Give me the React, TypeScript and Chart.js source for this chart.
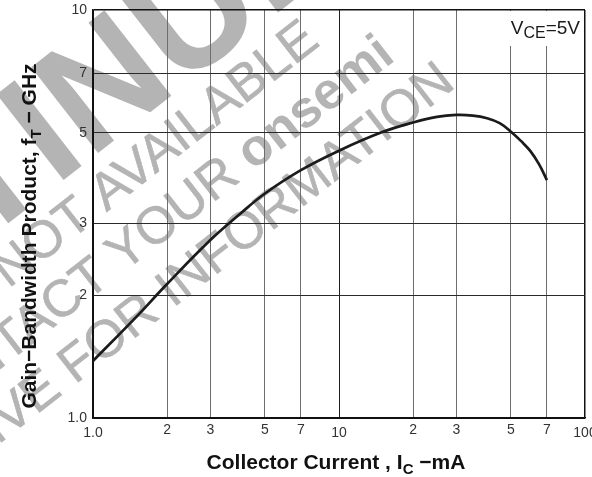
import React, { useEffect, useRef } from 'react';
import { Chart, registerables } from 'chart.js';

Chart.register(...registerables);

// ---- data ----
const collectorCurrent = [1, 1.5, 2, 3, 4, 5, 7, 10, 15, 20, 25, 30, 35, 40, 45, 50, 55, 60, 65, 70];
const gainBandwidth = [1.38, 1.77, 2.13, 2.73, 3.18, 3.55, 4.05, 4.52, 5.02, 5.3, 5.47, 5.53, 5.51, 5.43, 5.28, 5.03, 4.77, 4.51, 4.19, 3.83];
const xTickValues = [1, 2, 3, 5, 7, 10, 20, 30, 50, 70, 100];
const xTickLabels = ['1.0', '2', '3', '5', '7', '10', '2', '3', '5', '7', '100'];
const yTickValues = [1, 2, 3, 5, 7, 10];
const yTickLabels = ['1.0', '2', '3', '5', '7', '10'];

const FAMILY = '"Liberation Sans", Arial, Helvetica, sans-serif';

type Part = { text: string; sub?: boolean };

const yTitleParts: Part[] = [
  { text: 'Gain\u2212Bandwidth Product, f' },
  { text: 'T', sub: true },
  { text: ' \u2212 GHz' },
];
const xTitleParts: Part[] = [
  { text: 'Collector Current , I' },
  { text: 'C', sub: true },
  { text: ' \u2212mA' },
];
const conditionParts: Part[] = [
  { text: 'V' },
  { text: 'CE', sub: true },
  { text: '=5V' },
];

type Seg = { text: string; bold?: boolean };
type Mark = { segs: Seg[]; size: number; angle: number; anchor: number; x: number; y: number; stroke: number };

const watermark: Mark[] = [
  { segs: [{ text: 'DISCONTI', bold: true }, { text: 'N', bold: true }, { text: 'UED', bold: true }], size: 158, angle: 38, anchor: 1, x: 108, y: 90, stroke: 0 },
  { segs: [{ text: 'NOT ' }, { text: 'AVAILABLE' }], size: 52, angle: 38, anchor: 1, x: 205, y: 117, stroke: 0.6 },
  { segs: [{ text: 'CONTACT YOUR ' }, { text: 'onsemi', bold: true }], size: 52, angle: 38, anchor: 1, x: 316, y: 104, stroke: 0.6 },
  { segs: [{ text: 'ARCHIVE FOR ' }, { text: 'INFORMATION' }], size: 52, angle: 38, anchor: 1, x: 306, y: 186, stroke: 0.6 },
];

function drawRich(
  ctx: CanvasRenderingContext2D,
  parts: Part[],
  cx: number,
  baseline: number,
  size: number,
  bold: boolean,
  align: 'center' | 'right',
  subRatio = 0.72
) {
  const subSize = Math.round(size * subRatio);
  const fontFor = (p: Part) => `${bold ? 'bold ' : ''}${p.sub ? subSize : size}px ${FAMILY}`;
  const widths = parts.map((p) => {
    ctx.font = fontFor(p);
    return ctx.measureText(p.text).width;
  });
  const total = widths.reduce((a, b) => a + b, 0);
  let x = align === 'center' ? cx - total / 2 : cx - total;
  ctx.textAlign = 'left';
  ctx.textBaseline = 'alphabetic';
  parts.forEach((p, i) => {
    ctx.font = fontFor(p);
    ctx.fillText(p.text, x, baseline + (p.sub ? size * 0.22 : 0));
    x += widths[i];
  });
}

const watermarkPlugin = {
  id: 'watermark',
  beforeDraw(chart: Chart) {
    const ctx = chart.ctx;
    ctx.save();
    ctx.fillStyle = '#b4b4b4';
    ctx.strokeStyle = '#b4b4b4';
    ctx.lineJoin = 'round';
    watermark.forEach((m) => {
      const fonts = m.segs.map((s) => `${s.bold ? 'bold ' : ''}${m.size}px ${FAMILY}`);
      const widths = m.segs.map((s, i) => {
        ctx.font = fonts[i];
        return ctx.measureText(s.text).width;
      });
      let offset = 0;
      for (let i = 0; i < m.anchor; i++) offset += widths[i];
      offset += widths[m.anchor] / 2;
      ctx.save();
      ctx.translate(m.x, m.y);
      ctx.rotate((-m.angle * Math.PI) / 180);
      ctx.textAlign = 'left';
      ctx.textBaseline = 'middle';
      let x = -offset;
      m.segs.forEach((s, i) => {
        ctx.font = fonts[i];
        ctx.fillText(s.text, x, 0);
        if (m.stroke > 0 && !s.bold) {
          ctx.lineWidth = m.stroke;
          ctx.strokeText(s.text, x, 0);
        }
        x += widths[i];
      });
      ctx.restore();
    });
    ctx.restore();
  },
};

const labelsPlugin = {
  id: 'labels',
  afterDraw(chart: Chart) {
    const ctx = chart.ctx;
    const area = chart.chartArea;
    ctx.save();
    ctx.fillStyle = '#111';
    // x title
    drawRich(ctx, xTitleParts, (area.left + area.right) / 2 - 3, 469, 21, true, 'center');
    // y title
    ctx.save();
    ctx.translate(36, 236);
    ctx.rotate(-Math.PI / 2);
    drawRich(ctx, yTitleParts, 0, 0, 21, true, 'center');
    ctx.restore();
    // condition label
    ctx.fillStyle = '#ffffff';
    ctx.fillRect(area.right - 90, area.top + 1, 89, 35);
    ctx.fillStyle = '#1a1a1a';
    drawRich(ctx, conditionParts, area.right - 5, area.top + 24, 19, false, 'right', 0.86);
    ctx.restore();
  },
};

export default function App() {
  const canvasRef = useRef<HTMLCanvasElement | null>(null);

  useEffect(() => {
    const canvas = canvasRef.current;
    if (!canvas) return;
    const chart = new Chart(canvas, {
      type: 'line',
      data: {
        datasets: [
          {
            data: collectorCurrent.map((x, i) => ({ x, y: gainBandwidth[i] })),
            borderColor: '#1c1a1b',
            borderWidth: 2.7,
            pointRadius: 0,
            fill: false,
            tension: 0.4,
          },
        ],
      },
      options: {
        responsive: false,
        animation: false,
        events: [],
        layout: { padding: { top: 10, right: 7, left: 0, bottom: 0 } },
        plugins: {
          legend: { display: false },
          tooltip: { enabled: false },
          title: { display: false },
        },
        scales: {
          x: {
            type: 'logarithmic',
            min: 1,
            max: 100,
            afterBuildTicks: (s: any) => {
              s.ticks = xTickValues.map((v) => ({ value: v }));
            },
            afterFit: (s: any) => {
              s.height = 59;
              s.paddingLeft = 0;
              s.paddingRight = 0;
            },
            ticks: {
              autoSkip: false,
              maxRotation: 0,
              minRotation: 0,
              padding: 4,
              color: '#333',
              font: (c: any) => {
                const v = c.tick ? c.tick.value : 2;
                const decade = v === 1 || v === 10 || v === 100;
                return { family: FAMILY, size: 14, lineHeight: decade ? 1.58 : 1.2 };
              },
              callback: (_v: any, i: number) => xTickLabels[i],
            },
            grid: {
              drawTicks: false,
              color: (c: any) => {
                const v = c.tick ? c.tick.value : 0;
                if (v === 100 || v === 1) return '#111';
                if (v === 10) return '#1e1e1e';
                return '#6e6e6e';
              },
              lineWidth: (c: any) => {
                const v = c.tick ? c.tick.value : 0;
                return v === 100 ? 1.5 : 1;
              },
            },
            border: { display: true, color: '#111', width: 1.5 },
          },
          y: {
            type: 'logarithmic',
            min: 1,
            max: 10,
            afterBuildTicks: (s: any) => {
              s.ticks = yTickValues.map((v) => ({ value: v }));
            },
            afterFit: (s: any) => {
              s.width = 93;
              s.paddingTop = 0;
              s.paddingBottom = 0;
            },
            ticks: {
              autoSkip: false,
              padding: 6,
              color: '#333',
              font: { family: FAMILY, size: 14 },
              callback: (_v: any, i: number) => yTickLabels[i],
            },
            grid: {
              drawTicks: false,
              color: (c: any) => {
                const v = c.tick ? c.tick.value : 0;
                return v === 10 || v === 1 ? '#111' : '#2a2a2a';
              },
              lineWidth: (c: any) => {
                const v = c.tick ? c.tick.value : 0;
                return v === 10 ? 1.5 : 1;
              },
            },
            border: { display: true, color: '#111', width: 1.5 },
          },
        },
      },
      plugins: [watermarkPlugin, labelsPlugin],
    } as any);
    return () => chart.destroy();
  }, []);

  return (
    <div style={{ position: 'fixed', left: 0, top: 0, width: 592, height: 477, background: '#fff' }}>
      <canvas ref={canvasRef} width={592} height={477} style={{ display: 'block', width: 592, height: 477 }} />
    </div>
  );
}
